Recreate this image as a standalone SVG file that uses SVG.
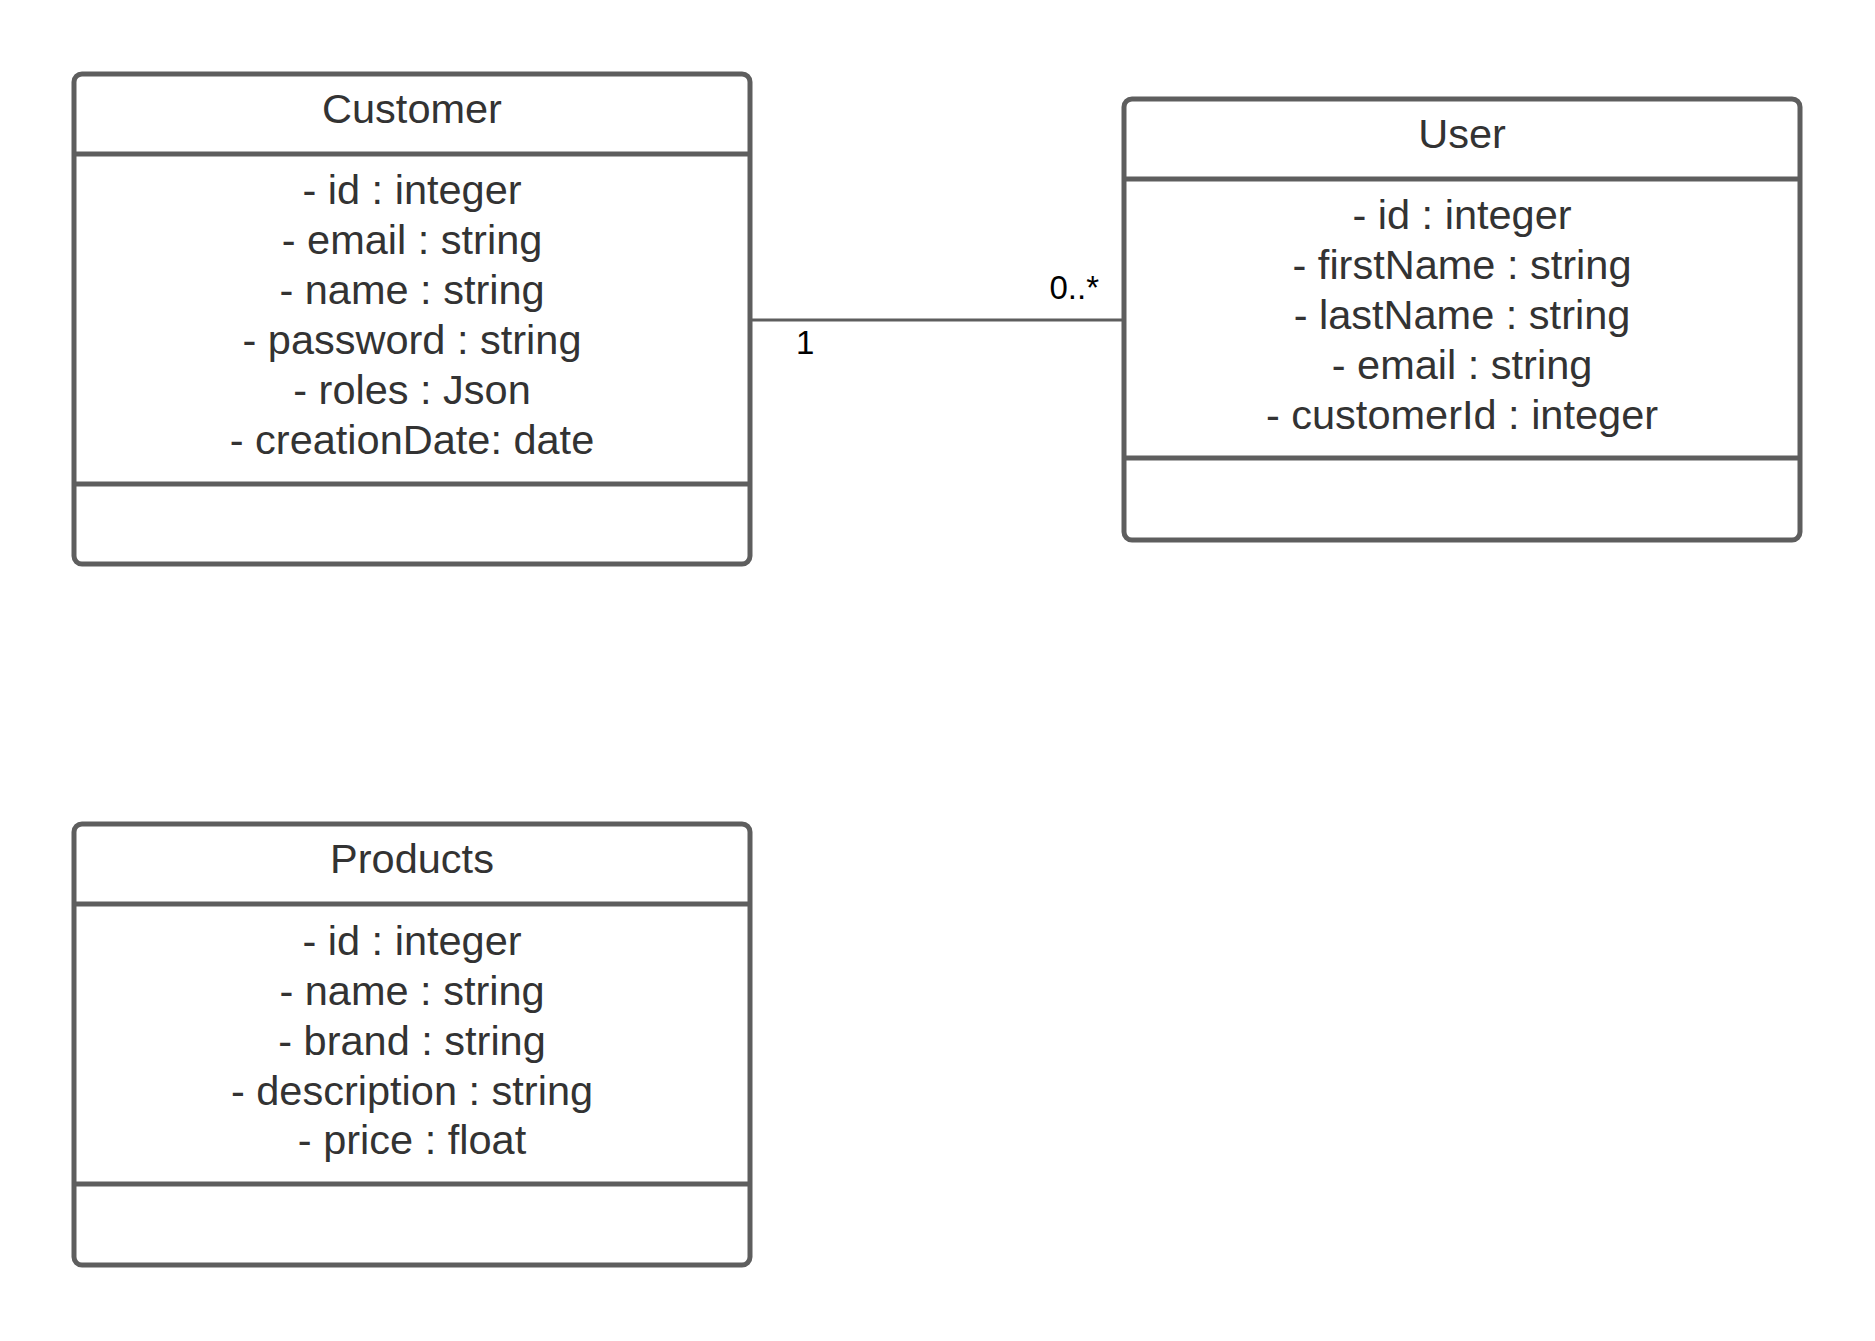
<svg xmlns="http://www.w3.org/2000/svg" width="1875" height="1341" viewBox="0 0 1875 1341">
<style>
.box{fill:#ffffff;stroke:#5e5e5e;stroke-width:5}
.div{stroke:#5e5e5e;stroke-width:5}
.t{font-family:"Liberation Sans",Arial,sans-serif;font-size:41.5px;fill:#333333;text-anchor:middle}
.lbl{font-family:"Liberation Sans",Arial,sans-serif;font-size:33px;fill:#000000}
.conn{stroke:#5e5e5e;stroke-width:3;fill:none}
</style>
<rect width="1875" height="1341" fill="#ffffff"/>
<g id="connectors">
<line class="conn" x1="750" y1="320" x2="1124" y2="320"/>
<text class="lbl" x="796" y="354">1</text>
<text class="lbl" x="1099" y="299" text-anchor="end">0..*</text>
</g>
<g id="customer">
<rect class="box" x="74" y="74" width="676" height="490" rx="8"/>
<line class="div" x1="74" y1="154" x2="750" y2="154"/>
<line class="div" x1="74" y1="484" x2="750" y2="484"/>
<text class="t" x="412" y="123">Customer</text>
<text class="t" x="412" y="204">- id : integer</text>
<text class="t" x="412" y="254">- email : string</text>
<text class="t" x="412" y="304">- name : string</text>
<text class="t" x="412" y="354">- password : string</text>
<text class="t" x="412" y="404">- roles : Json</text>
<text class="t" x="412" y="454">- creationDate: date</text>
</g>
<g id="user">
<rect class="box" x="1124" y="99" width="676" height="441" rx="8"/>
<line class="div" x1="1124" y1="179" x2="1800" y2="179"/>
<line class="div" x1="1124" y1="458" x2="1800" y2="458"/>
<text class="t" x="1462" y="148">User</text>
<text class="t" x="1462" y="229">- id : integer</text>
<text class="t" x="1462" y="279">- firstName : string</text>
<text class="t" x="1462" y="329">- lastName : string</text>
<text class="t" x="1462" y="379">- email : string</text>
<text class="t" x="1462" y="429">- customerId : integer</text>
</g>
<g id="products">
<rect class="box" x="74" y="824" width="676" height="441" rx="8"/>
<line class="div" x1="74" y1="904" x2="750" y2="904"/>
<line class="div" x1="74" y1="1184" x2="750" y2="1184"/>
<text class="t" x="412" y="873">Products</text>
<text class="t" x="412" y="955">- id : integer</text>
<text class="t" x="412" y="1005">- name : string</text>
<text class="t" x="412" y="1055">- brand : string</text>
<text class="t" x="412" y="1105">- description : string</text>
<text class="t" x="412" y="1154">- price : float</text>
</g>
</svg>
